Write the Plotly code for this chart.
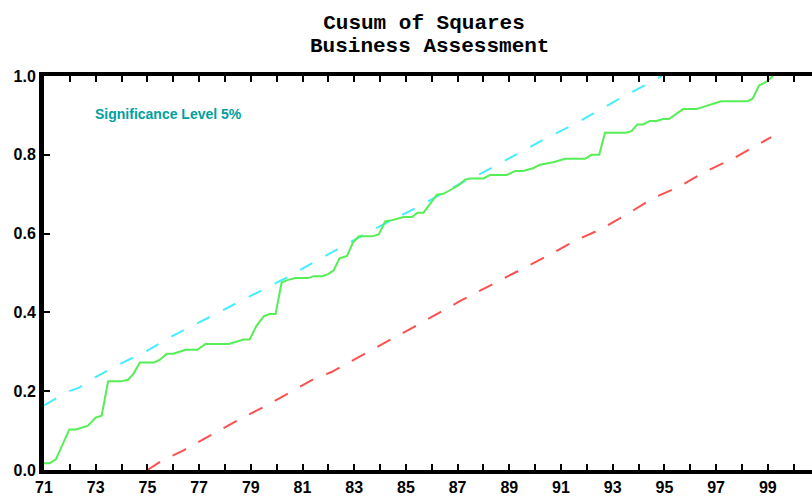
import plotly.graph_objects as go

# ---- data ----
cusum_x = [71.0, 71.22, 71.46, 71.98, 72.23, 72.69, 73.0, 73.23, 73.48, 73.99, 74.25, 74.46, 74.71,
           75.26, 75.49, 75.75, 76.0, 76.48, 76.93, 77.25, 78.15, 78.73, 78.95, 79.22, 79.5, 79.72,
           79.96, 80.19, 80.41, 80.73, 81.22, 81.44, 81.76, 81.99, 82.21, 82.43, 82.72, 82.95, 83.18,
           83.68, 83.95, 84.2, 84.4, 84.91, 85.24, 85.45, 85.68, 86.2, 86.45, 87.03, 87.29, 87.49,
           88.0, 88.26, 88.9, 89.23, 89.53, 89.92, 90.19, 90.7, 91.16, 91.93, 92.18, 92.48, 92.7,
           93.51, 93.73, 93.95, 94.18, 94.44, 94.69, 94.95, 95.18, 95.72, 96.23, 97.2, 98.23, 98.42,
           98.66, 98.94, 99.2]
cusum_y = [0.017, 0.017, 0.027, 0.103, 0.103, 0.112, 0.133, 0.138, 0.225, 0.225, 0.229, 0.244, 0.273,
           0.273, 0.280, 0.295, 0.295, 0.305, 0.305, 0.320, 0.320, 0.331, 0.331, 0.366, 0.390, 0.396,
           0.396, 0.476, 0.482, 0.487, 0.487, 0.492, 0.492, 0.497, 0.507, 0.537, 0.543, 0.577, 0.593,
           0.593, 0.598, 0.631, 0.633, 0.642, 0.642, 0.653, 0.653, 0.699, 0.701, 0.722, 0.737, 0.740,
           0.740, 0.749, 0.749, 0.759, 0.759, 0.766, 0.775, 0.781, 0.790, 0.790, 0.800, 0.800, 0.856,
           0.856, 0.860, 0.877, 0.877, 0.886, 0.886, 0.891, 0.891, 0.916, 0.916, 0.936, 0.936, 0.943,
           0.976, 0.985, 1.0]

upper_x = [71.0, 71.45, 71.97, 72.36, 73.0, 73.97, 75.0, 76.0, 77.01, 78.17, 79.46, 80.49, 81.4,
           82.56, 83.5, 85.5, 87.13, 88.1, 89.13, 90.45, 91.47, 92.5, 93.5, 94.55, 94.9]
upper_y = [0.164, 0.181, 0.200, 0.209, 0.236, 0.270, 0.303, 0.341, 0.375, 0.414, 0.459, 0.492, 0.526,
           0.568, 0.602, 0.669, 0.728, 0.759, 0.795, 0.843, 0.876, 0.914, 0.951, 0.987, 1.0]

lower_x = [75.0, 75.5, 76.4, 77.45, 78.48, 79.5, 80.54, 81.44, 82.1, 83.0, 84.0, 85.0, 86.07, 87.1,
           88.1, 89.2, 90.58, 91.48, 92.5, 93.53, 94.56, 95.6, 96.6, 97.65, 98.68, 99.13]
lower_y = [0.0, 0.021, 0.05, 0.088, 0.126, 0.16, 0.198, 0.231, 0.248, 0.280, 0.315, 0.352, 0.391, 0.429,
           0.463, 0.50, 0.547, 0.58, 0.61, 0.648, 0.69, 0.72, 0.758, 0.79, 0.829, 0.845]

x_tick_vals = list(range(71, 101))
x_tick_text = [str(v) if v % 2 == 1 else "" for v in x_tick_vals]
y_tick_vals = [0.0, 0.2, 0.4, 0.6, 0.8, 1.0]
y_tick_text = ["0.0", "0.2", "0.4", "0.6", "0.8", "1.0"]

title_line1 = "Cusum of Squares"
title_line2 = "Business Assessment"
note_text = "Significance Level 5%"

TICK_FONT = "Liberation Sans, Arial, sans-serif"
TITLE_FONT = "Liberation Mono, DejaVu Sans Mono, monospace"

fig = go.Figure()
fig.add_trace(go.Scatter(x=upper_x, y=upper_y, mode="lines",
                         line=dict(color="#44eeff", width=2, dash="14px,15px"),
                         showlegend=False, hoverinfo="skip"))
fig.add_trace(go.Scatter(x=lower_x, y=lower_y, mode="lines",
                         line=dict(color="#ff5050", width=2, dash="15px,14px"),
                         showlegend=False, hoverinfo="skip"))
fig.add_trace(go.Scatter(x=cusum_x, y=cusum_y, mode="lines",
                         line=dict(color="#55ee55", width=2),
                         showlegend=False))

fig.update_layout(
    width=812, height=497,
    margin=dict(l=44, r=0, t=76, b=27),
    paper_bgcolor="white", plot_bgcolor="white",
    title=dict(text=title_line1, x=424 / 812, xanchor="center", xref="container",
               y=1 - 22 / 497, yanchor="middle", yref="container",
               font=dict(family=TITLE_FONT, size=21, color="black", weight="bold")),
    xaxis=dict(range=[71, 71 + 768 / 25.85], tickmode="array", tickvals=x_tick_vals,
               ticktext=x_tick_text, ticks="inside", ticklen=6, tickwidth=2, tickcolor="black",
               showline=True, linecolor="black", linewidth=4, mirror="ticks",
               showgrid=False, zeroline=False,
               tickfont=dict(family=TICK_FONT, size=16, color="black", weight="bold")),
    yaxis=dict(range=[0, 1], tickmode="array", tickvals=y_tick_vals, ticktext=y_tick_text,
               ticks="inside", ticklen=6, tickwidth=2, tickcolor="black",
               showline=True, linecolor="black", linewidth=5, mirror=False,
               showgrid=False, zeroline=False,
               tickfont=dict(family=TICK_FONT, size=16, color="black", weight="bold")),
    annotations=[
        dict(text=title_line2, xref="paper", yref="paper", x=(429 - 44) / 768, y=(470 - 46) / 394,
             xanchor="center", yanchor="middle", showarrow=False,
             font=dict(family=TITLE_FONT, size=21, color="black", weight="bold")),
        dict(text=note_text, xref="paper", yref="paper", x=(93 - 44) / 768, y=(470 - 114) / 394,
             xanchor="left", yanchor="middle", showarrow=False,
             font=dict(family=TICK_FONT, size=14, color="#00a0a0", weight="bold")),
    ],
)

fig.write_html("out.html", config={"displayModeBar": False},
               post_script="document.body.style.margin='0';")
